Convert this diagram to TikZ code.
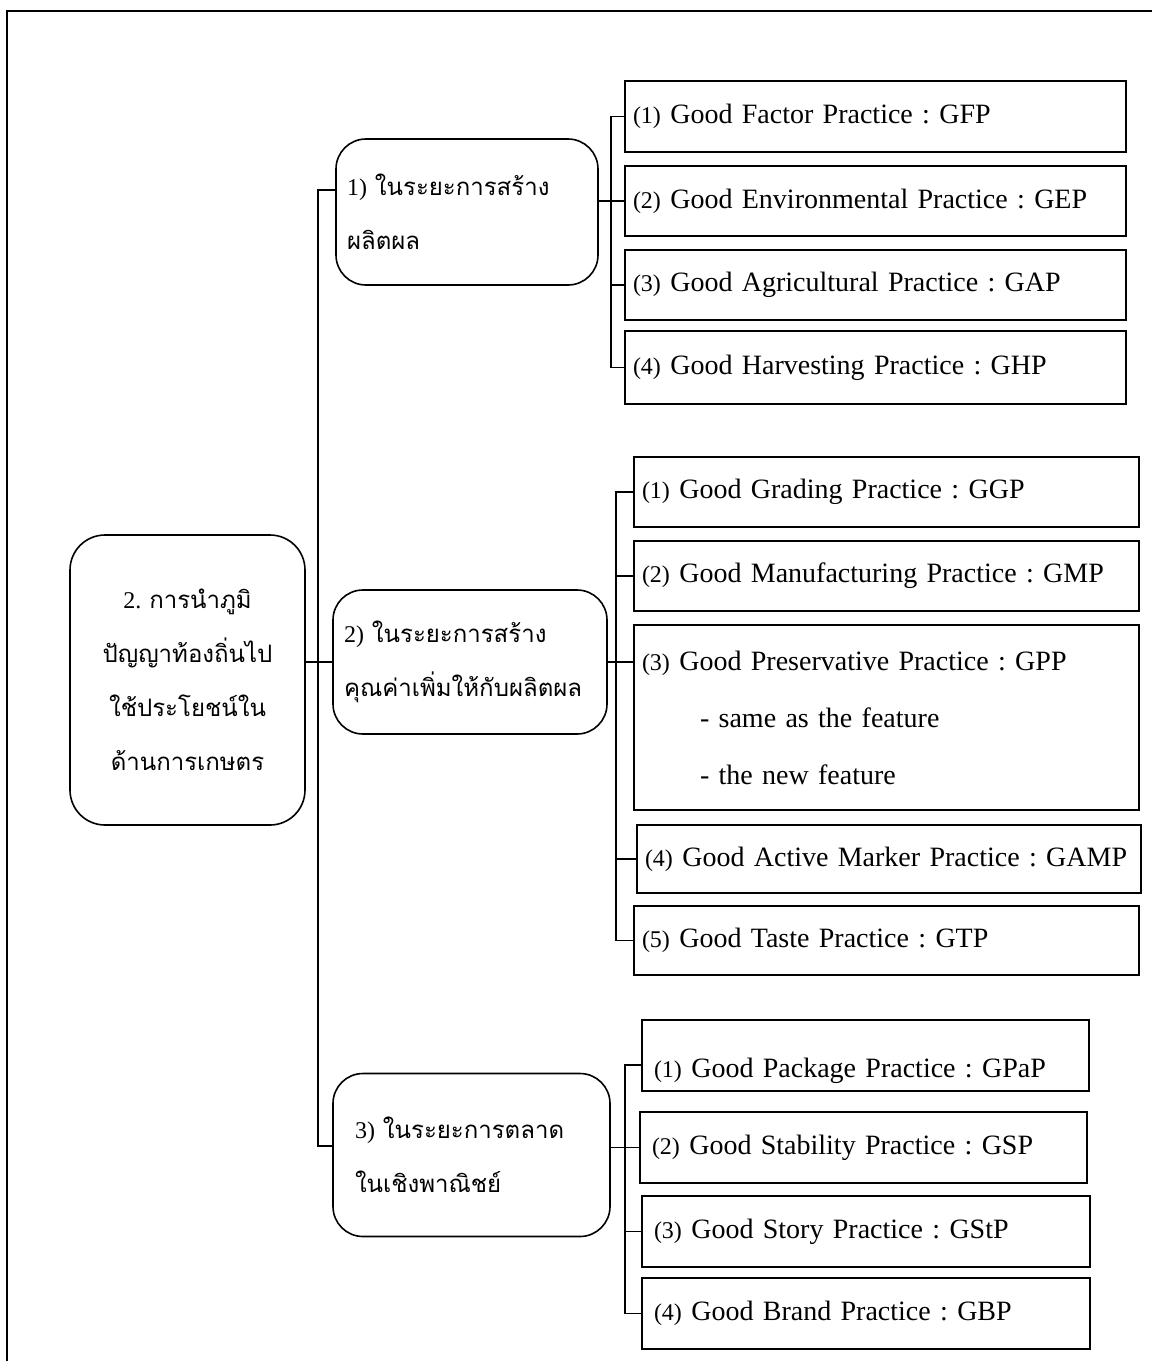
\documentclass[tikz,border=0pt]{standalone}
\usepackage{fontspec}
\setmainfont{Liberation Serif}
\newfontfamily\thaifont[Script=Thai]{Loma}
\newcommand\nm[1]{{\fontsize{24pt}{24pt}\rmfamily #1}}
\begin{document}
\frenchspacing
\begin{tikzpicture}[x=1pt,y=-1pt, line width=1.6pt,
  every node/.style={inner sep=0pt, outer sep=0pt},
  rbox/.style={draw, rounded corners=30pt, align=left, inner xsep=11pt,
    font=\fontsize{24pt}{54pt}\selectfont\thaifont},
  pbox/.style={draw, align=left, inner xsep=8pt,
    font=\fontsize{28pt}{57pt}\selectfont\frenchspacing},
]
\useasboundingbox (0,0) rectangle (1152,1361);
\draw[line width=2pt] (7,1361) -- (7,11) -- (1152,11);

% main box
\node[rbox, rounded corners=35pt, align=center, minimum width=235pt, minimum height=290pt, text width=213pt]
  (main) at (187.5,680) {\nm{2.} การนำภูมิ\\ปัญญาท้องถิ่นไป\\ใช้ประโยชน์ใน\\ด้านการเกษตร};

% stage boxes
\node[rbox, minimum height=146pt, text width=240pt] (b1) at (467,212)
  {\nm{1)} ในระยะการสร้าง\\ผลิตผล};
\node[rbox, minimum height=144pt, text width=252pt] (b2) at (470,662)
  {\nm{2)} ในระยะการสร้าง\\คุณค่าเพิ่มให้กับผลิตผล};
\node[rbox, inner xsep=22pt, minimum height=163pt, text width=233pt] (b3) at (471.5,1155)
  {\nm{3)} ในระยะการตลาด\\ในเชิงพาณิชย์};

% group 1
\node[pbox, minimum height=71pt, text width=485pt] (g1a) at (875.5,116.5) {\nm{(1)} Good Factor Practice : GFP};
\node[pbox, minimum height=70pt, text width=485pt] (g1b) at (875.5,201) {\nm{(2)} Good Environmental Practice : GEP};
\node[pbox, minimum height=70pt, text width=485pt] (g1c) at (875.5,285) {\nm{(3)} Good Agricultural Practice : GAP};
\node[pbox, minimum height=73pt, text width=485pt] (g1d) at (875.5,367.5) {\nm{(4)} Good Harvesting Practice : GHP};

% group 2
\node[pbox, minimum height=70pt, text width=489pt] (g2a) at (886.5,492) {\nm{(1)} Good Grading Practice : GGP};
\node[pbox, minimum height=70pt, text width=489pt] (g2b) at (886.5,576) {\nm{(2)} Good Manufacturing Practice : GMP};
\node[pbox, minimum height=185pt, text width=489pt] (g2c) at (886.5,717.5)
  {\nm{(3)} Good Preservative Practice : GPP\\\hspace*{58pt}- same as the feature\\\hspace*{58pt}- the new feature};
\node[pbox, minimum height=68pt, text width=488pt] (g2d) at (889,859) {\nm{(4)} Good Active Marker Practice : GAMP};
\node[pbox, minimum height=69pt, text width=489pt] (g2e) at (886.5,940.5) {\nm{(5)} Good Taste Practice : GTP};

% group 3
\node[pbox, inner xsep=12pt, minimum height=71pt, text width=423pt, text height=50pt] (g3a) at (865.5,1055.5) {\nm{(1)} Good Package Practice : GPaP};
\node[pbox, inner xsep=12pt, minimum height=71pt, text width=423pt] (g3b) at (863.5,1147.5) {\nm{(2)} Good Stability Practice : GSP};
\node[pbox, inner xsep=12pt, minimum height=71pt, text width=424pt] (g3c) at (866,1231.5) {\nm{(3)} Good Story Practice : GStP};
\node[pbox, inner xsep=12pt, minimum height=71pt, text width=424pt] (g3d) at (866,1313.5) {\nm{(4)} Good Brand Practice : GBP};

% trunk
\coordinate (t1) at (318,190);
\coordinate (t3) at (318,1146);
\draw (b1.west |- t1) -- (t1) -- (t3) -- (b3.west |- t3);
\draw (main.east |- b2.west) -- (b2.west);

% group 1 connectors
\coordinate (s1) at (611,0);
\draw (g1a.west) -- (g1a.west -| s1) -- (g1d.west -| s1) -- (g1d.west);
\draw (b1.east |- g1b.west) -- (g1b.west);
\draw (g1c.west -| s1) -- (g1c.west);

% group 2 connectors
\coordinate (s2) at (616,0);
\draw (g2a.west) -- (g2a.west -| s2) -- (g2e.west -| s2) -- (g2e.west);
\draw (b2.east) -- (b2.east -| g2c.west);
\draw (g2b.west -| s2) -- (g2b.west);
\draw (g2d.west -| s2) -- (g2d.west);

% group 3 connectors
\coordinate (c3a) at (625,1065);
\draw (g3a.west |- c3a) -- (c3a) -- (g3d.west -| c3a) -- (g3d.west);
\draw (b3.east |- g3b.west) -- (g3b.west);
\draw (g3c.west -| c3a) -- (g3c.west);
\end{tikzpicture}
\end{document}
